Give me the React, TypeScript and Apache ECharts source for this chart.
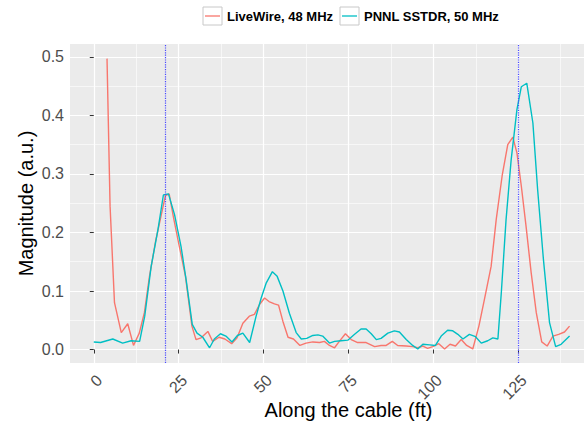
import { useEffect, useRef } from "react";
import * as echarts from "echarts";

// Reflection magnitude along the cable for the two instruments
const liveWireFt = [
  3.9, 4.8, 6.1, 8.1, 10.0, 11.7, 13.4, 14.9, 16.4, 18.2, 19.8, 21.1, 22.2, 23.5, 25.2, 27.0,
  28.9, 30.1, 31.6, 33.6, 35.0, 36.9, 38.6, 40.6, 42.2, 43.9, 45.8, 47.3, 48.8, 50.3, 51.6,
  53.2, 54.4, 55.7, 57.2, 58.8, 60.7, 62.5, 64.5, 66.5, 67.9, 69.4, 70.9, 72.3, 74.1, 75.8,
  77.7, 80.2, 82.7, 84.6, 86.1, 87.9, 89.5, 92.0, 93.9, 95.4, 96.9, 98.3, 99.8, 101.6, 103.3,
  104.9, 106.5, 108.2, 109.8, 111.6, 113.4, 115.0, 117.0, 118.5, 120.3, 121.9, 123.4, 124.6,
  125.9, 127.3, 128.8, 130.3, 131.9, 133.5, 135.2, 136.9, 138.6, 140.1,
];
const liveWireMag = [
  0.497, 0.245, 0.08, 0.029, 0.044, 0.007, 0.028, 0.063, 0.125, 0.185, 0.228, 0.263, 0.266,
  0.225, 0.176, 0.125, 0.04, 0.017, 0.02, 0.031, 0.014, 0.021, 0.018, 0.01, 0.02, 0.045, 0.057,
  0.06, 0.077, 0.088, 0.082, 0.078, 0.076, 0.048, 0.021, 0.018, 0.007, 0.011, 0.013, 0.012,
  0.014, 0.007, 0.003, 0.014, 0.027, 0.017, 0.012, 0.012, 0.005, 0.007, 0.007, 0.014, 0.007,
  0.006, 0.005, 0.003, 0.006, 0.002, 0.005, 0.01, 0.001, 0.009, 0.006, 0.017, 0.007, 0.001,
  0.04, 0.085, 0.142, 0.222, 0.299, 0.35, 0.363, 0.336, 0.279, 0.21, 0.131, 0.063, 0.013, 0.006,
  0.023, 0.026, 0.03, 0.04,
];
const pnnlFt = [
  0.0, 2.0, 5.6, 8.5, 11.0, 13.5, 15.0, 16.9, 18.9, 20.5, 22.0, 23.8, 25.7, 27.2, 29.0, 30.4,
  32.1, 34.1, 35.5, 37.3, 38.9, 40.7, 42.3, 43.9, 45.9, 47.8, 49.3, 50.8, 52.6, 54.0, 55.7,
  57.6, 59.6, 61.1, 62.7, 64.5, 66.0, 67.4, 69.4, 70.9, 72.8, 74.8, 76.8, 78.7, 80.2, 81.7,
  83.2, 84.6, 86.6, 88.5, 90.0, 92.0, 93.9, 95.4, 96.9, 98.9, 100.6, 102.3, 104.2, 105.7,
  107.2, 108.7, 110.6, 112.4, 114.1, 116.0, 117.5, 119.0, 120.0, 121.4, 122.9, 124.6, 125.9,
  127.5, 129.3, 130.7, 132.4, 134.2, 136.0, 137.6, 140.1,
];
const pnnlMag = [
  0.013, 0.012, 0.018, 0.011, 0.015, 0.014, 0.057, 0.142, 0.205, 0.264, 0.266, 0.23, 0.176,
  0.119, 0.043, 0.028, 0.021, 0.003, 0.018, 0.027, 0.023, 0.013, 0.024, 0.028, 0.012, 0.057,
  0.088, 0.114, 0.133, 0.125, 0.1, 0.062, 0.029, 0.018, 0.019, 0.024, 0.025, 0.023, 0.011,
  0.014, 0.015, 0.016, 0.026, 0.035, 0.035, 0.027, 0.017, 0.019, 0.028, 0.032, 0.03, 0.017,
  0.007, 0.001, 0.009, 0.008, 0.007, 0.023, 0.033, 0.032, 0.026, 0.018, 0.026, 0.022, 0.011,
  0.015, 0.02, 0.018, 0.097, 0.222, 0.324, 0.41, 0.449, 0.455, 0.387, 0.273, 0.154, 0.046,
  0.005, 0.009, 0.023,
];

const xMajorTicks = [0, 25, 50, 75, 100, 125];
const xMinorTicks = [12.5, 37.5, 62.5, 87.5, 112.5, 137.5];
const yMajorTicks = [0, 0.1, 0.2, 0.3, 0.4, 0.5];
const yMinorTicks = [0.05, 0.15, 0.25, 0.35, 0.45];
const markerFt = [21, 125];

const seriesNames = ["LiveWire, 48 MHz", "PNNL SSTDR, 50 MHz"];
const seriesColors = ["#F8766D", "#00BFC4"];

const FONT = "'Liberation Sans', Arial, Helvetica, sans-serif";
const X_RANGE = [-7, 147];
const Y_RANGE = [-0.023, 0.522];

const zip = (xs: number[], ys: number[]) => xs.map((x, i) => [x, ys[i]]);

function legendKey(x: number, color: string, label: string) {
  return {
    type: "group",
    children: [
      {
        type: "rect",
        shape: { x, y: 7, width: 19, height: 18 },
        style: { fill: "#ffffff", stroke: "#c8c8c8", lineWidth: 1 },
      },
      {
        type: "line",
        shape: { x1: x + 2, y1: 16, x2: x + 17, y2: 16 },
        style: { stroke: color, lineWidth: 1.3 },
      },
      {
        type: "text",
        x: x + 24,
        y: 16.5,
        style: {
          text: label,
          fill: "#000000",
          font: `bold 13px ${FONT}`,
          verticalAlign: "middle",
          align: "left",
        },
      },
    ],
  };
}

export default function App() {
  const ref = useRef<HTMLDivElement>(null);

  useEffect(() => {
    if (!ref.current) return;
    const chart = echarts.init(ref.current, undefined, { renderer: "svg" });

    const valueAxisBase = {
      type: "value",
      axisLine: { show: false },
    };

    chart.setOption({
      animation: false,
      backgroundColor: "#ffffff",
      grid: {
        left: 70,
        top: 44,
        width: 523,
        height: 319,
        show: true,
        backgroundColor: "#EBEBEB",
        borderWidth: 0,
        containLabel: false,
        outerBoundsMode: "none",
      },
      xAxis: [
        {
          ...valueAxisBase,
          min: X_RANGE[0],
          max: X_RANGE[1],
          position: "bottom",
          axisTick: {
            show: true,
            customValues: xMajorTicks,
            length: 4,
            lineStyle: { color: "#333333", width: 1 },
          },
          axisLabel: {
            customValues: xMajorTicks,
            rotate: 45,
            margin: 9,
            verticalAlign: "top",
            color: "#4D4D4D",
            fontSize: 16,
            fontFamily: FONT,
          },
          splitLine: { show: true, lineStyle: { color: "#ffffff", width: 1.2 } },
          name: "Along the cable (ft)",
          nameLocation: "middle",
          nameGap: 37,
          nameMoveOverlap: false,
          nameTextStyle: {
            color: "#000000",
            fontSize: 20,
            fontFamily: FONT,
            padding: [0, 0, 0, 34],
          },
        },
        {
          ...valueAxisBase,
          min: X_RANGE[0],
          max: X_RANGE[1],
          position: "top",
          axisTick: { show: false, customValues: xMinorTicks },
          axisLabel: { show: false, customValues: xMinorTicks },
          splitLine: { show: true, lineStyle: { color: "#ffffff", width: 0.6 } },
        },
      ],
      yAxis: [
        {
          ...valueAxisBase,
          min: Y_RANGE[0],
          max: Y_RANGE[1],
          position: "left",
          axisTick: {
            show: true,
            customValues: yMajorTicks,
            length: 4,
            lineStyle: { color: "#333333", width: 1 },
          },
          axisLabel: {
            customValues: yMajorTicks,
            margin: 6,
            color: "#4D4D4D",
            fontSize: 16,
            fontFamily: FONT,
            formatter: (v: number) => v.toFixed(1),
          },
          splitLine: { show: true, lineStyle: { color: "#ffffff", width: 1.2 } },
          name: "Magnitude (a.u.)",
          nameLocation: "middle",
          nameGap: 34,
          nameMoveOverlap: false,
          nameTextStyle: { color: "#000000", fontSize: 20, fontFamily: FONT },
        },
        {
          ...valueAxisBase,
          min: Y_RANGE[0],
          max: Y_RANGE[1],
          position: "right",
          axisTick: { show: false, customValues: yMinorTicks },
          axisLabel: { show: false, customValues: yMinorTicks },
          splitLine: { show: true, lineStyle: { color: "#ffffff", width: 0.6 } },
        },
      ],
      series: [
        {
          name: seriesNames[0],
          type: "line",
          xAxisIndex: 0,
          yAxisIndex: 0,
          data: zip(liveWireFt, liveWireMag),
          showSymbol: false,
          symbol: "none",
          lineStyle: { color: seriesColors[0], width: 1.4 },
          itemStyle: { color: seriesColors[0] },
          z: 3,
        },
        {
          name: seriesNames[1],
          type: "line",
          xAxisIndex: 0,
          yAxisIndex: 0,
          data: zip(pnnlFt, pnnlMag),
          showSymbol: false,
          symbol: "none",
          lineStyle: { color: seriesColors[1], width: 1.4 },
          itemStyle: { color: seriesColors[1] },
          z: 3,
        },
        {
          name: "markers",
          type: "line",
          xAxisIndex: 0,
          yAxisIndex: 0,
          data: [],
          z: 4,
          markLine: {
            silent: true,
            symbol: ["none", "none"],
            label: { show: false },
            lineStyle: { color: "#4a4aff", type: "dotted", width: 1.2 },
            data: markerFt.map((v) => ({ xAxis: v })),
          },
        },
      ],
      graphic: [
        legendKey(203, seriesColors[0], seriesNames[0]),
        legendKey(340, seriesColors[1], seriesNames[1]),
      ],
    });

    return () => chart.dispose();
  }, []);

  return (
    <div
      ref={ref}
      style={{ position: "fixed", left: 0, top: 0, width: 584, height: 425, background: "#fff" }}
    />
  );
}
